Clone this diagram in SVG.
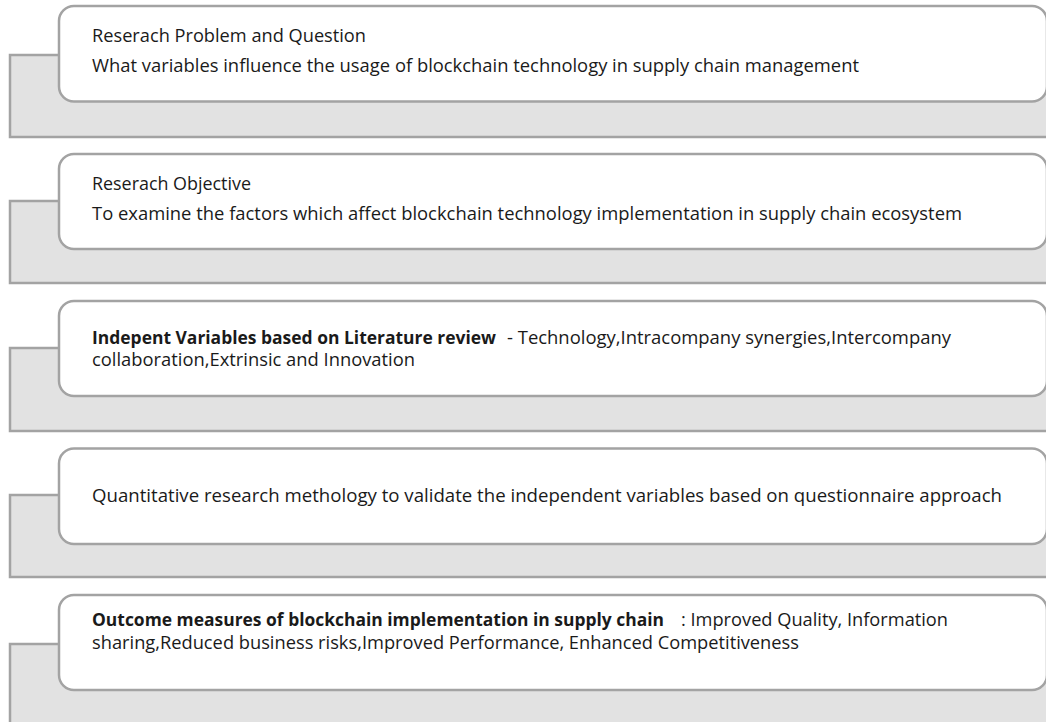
<svg xmlns="http://www.w3.org/2000/svg" width="1046" height="722" viewBox="0 0 1046 722">
<style>
.bg{fill:#e2e2e2;stroke:#a3a3a3;stroke-width:2.5}
.box{fill:#ffffff;stroke:#a3a3a3;stroke-width:2.5}
text{font-family:"Open Sans","Liberation Sans",sans-serif;font-size:18.3px;fill:#1a1a1a}
.b{font-weight:bold}
</style>
<rect width="1046" height="722" fill="#ffffff"/>
<g id="connectors"></g>
<g id="row1">
<rect class="bg" x="10" y="55" width="1050" height="82"/>
<rect class="box" x="59" y="6" width="988" height="95.5" rx="15"/>
<text x="92" y="42" textLength="274" lengthAdjust="spacingAndGlyphs">Reserach Problem and Question</text>
<text x="92" y="72" textLength="767" lengthAdjust="spacingAndGlyphs">What variables influence the usage of blockchain technology in supply chain management</text>
</g>
<g id="row2">
<rect class="bg" x="10" y="201" width="1050" height="82"/>
<rect class="box" x="59" y="154" width="988" height="95" rx="15"/>
<text x="92" y="190" textLength="159" lengthAdjust="spacingAndGlyphs">Reserach Objective</text>
<text x="92" y="220" textLength="870" lengthAdjust="spacingAndGlyphs">To examine the factors which affect blockchain technology implementation in supply chain ecosystem</text>
</g>
<g id="row3">
<rect class="bg" x="10" y="348" width="1050" height="83"/>
<rect class="box" x="59" y="301" width="988" height="95" rx="15"/>
<text x="92" y="344" class="b" textLength="404" lengthAdjust="spacingAndGlyphs">Indepent Variables based on Literature review</text>
<text x="507" y="344" textLength="444" lengthAdjust="spacingAndGlyphs">- Technology,Intracompany synergies,Intercompany</text>
<text x="92" y="366" textLength="323" lengthAdjust="spacingAndGlyphs">collaboration,Extrinsic and Innovation</text>
</g>
<g id="row4">
<rect class="bg" x="10" y="495" width="1050" height="82"/>
<rect class="box" x="59" y="448.5" width="988" height="95.5" rx="15"/>
<text x="92" y="502" textLength="910" lengthAdjust="spacingAndGlyphs">Quantitative research methology to validate the independent variables based on questionnaire approach</text>
</g>
<g id="row5">
<rect class="bg" x="10" y="644" width="1050" height="100"/>
<rect class="box" x="59" y="595" width="988" height="95" rx="15"/>
<text x="92" y="626" class="b" textLength="572" lengthAdjust="spacingAndGlyphs">Outcome measures of blockchain implementation in supply chain</text>
<text x="681" y="626" textLength="267" lengthAdjust="spacingAndGlyphs">: Improved Quality, Information</text>
<text x="92" y="649" textLength="707" lengthAdjust="spacingAndGlyphs">sharing,Reduced business risks,Improved Performance, Enhanced Competitiveness</text>
</g>
</svg>
